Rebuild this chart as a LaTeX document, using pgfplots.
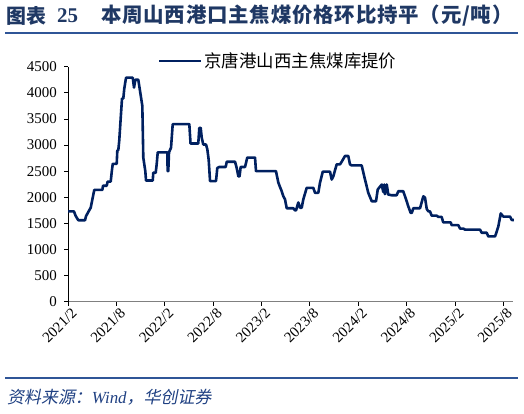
\documentclass[border=0pt]{standalone}
\usepackage{pgfplots}
\pgfplotsset{compat=1.18}
\usepackage{fontspec}
\setmainfont{Liberation Serif}
\newfontfamily\cjk{Noto Sans CJK SC}
\newfontfamily\cjktitle{Noto Sans CJK SC}[LetterSpace=4]
\newfontfamily\cjkit{Noto Sans CJK SC}[FakeSlant=0.2]
\definecolor{navy}{RGB}{0,32,96}
\definecolor{titleblue}{RGB}{31,56,100}
\definecolor{rulec}{RGB}{47,85,151}
\definecolor{srcblue}{RGB}{31,64,130}
\begin{document}
\begin{tikzpicture}[x=1bp,y=1bp]
\path[use as bounding box] (0,0) rectangle (524,413);
\draw[rulec, line width=1.8bp] (5,379.7) -- (518,379.7);
\draw[rulec, line width=1.8bp] (5,35) -- (518,35);
\node[anchor=west, inner sep=0, text=titleblue] at (6,397.5) {\fontsize{20}{22}\selectfont\cjk\bfseries 图表};
\node[anchor=west, inner sep=0, text=titleblue] at (57,397.5) {\fontsize{21}{22}\selectfont\bfseries 25};
\node[anchor=west, inner sep=0, text=titleblue] at (101,397.5) {\fontsize{20.5}{22}\selectfont\cjktitle\bfseries 本周山西港口主焦煤价格环比持平（元/吨）};
\node[anchor=west, inner sep=0, text=srcblue] at (7,15.5) {\fontsize{17}{19}\selectfont{\cjkit 资料来源：}{\itshape Wind}{\cjkit ，华创证券}};
\begin{axis}[
  at={(68bp,111.3bp)}, anchor=south west,
  scale only axis, width=445.3bp, height=235bp,
  xmin=0, xmax=55.24, ymin=0, ymax=4500,
  axis x line*=bottom, axis y line*=left,
  x axis line style={draw=gray, line width=1bp, -},
  y axis line style={draw=black, line width=0.8bp, -},
  xtick={0,6,...,54},
  xticklabels={2021/2,2021/8,2022/2,2022/8,2023/2,2023/8,2024/2,2024/8,2025/2,2025/8},
  ytick={0,500,...,4500},
  scaled y ticks=false,
  /pgf/number format/1000 sep={},
  /pgf/number format/assume math mode=true,
  tick align=outside, major tick length=4bp,
  tick style={black, line width=0.8bp},
  ticklabel style={font=\fontsize{15}{17}\selectfont},
  xticklabel style={rotate=45, anchor=east, inner sep=1bp, yshift=-8bp, xshift=2bp},
  yticklabel style={inner sep=2bp, xshift=-5bp},
  clip=false,
  legend style={draw=none, fill=none, at={(0.202,1.024)}, anchor=west,
    font=\cjk\fontsize{17.5}{19}\selectfont, inner sep=0pt, outer sep=0pt,
    nodes={inner sep=2bp}},
  legend image code/.code={\draw[#1] (0bp,0bp) -- (42bp,0bp);},
]
\addplot[navy, line width=2.6bp, line join=round] coordinates {
(0,1730)(0.74,1730)(0.93,1650)(1.12,1600)(1.28,1560)(2.11,1560)(2.23,1635)(2.52,1720)(2.82,1800)(3.01,1950)(3.26,2140)(4.26,2140)(4.34,2220)(4.80,2220)(4.92,2300)(5.30,2300)(5.42,2480)(5.55,2640)(6.04,2640)(6.12,2900)(6.24,2900)(6.36,3090)(6.54,3520)(6.70,3890)(6.86,3890)(6.98,4080)(7.20,4290)(8.03,4290)(8.19,4100)(8.35,4250)(8.72,4250)(8.93,4040)(9.22,3750)(9.34,2760)(9.59,2500)(9.68,2320)(10.51,2320)(10.58,2470)(10.88,2470)(11.00,2630)(11.13,2860)(12.32,2860)(12.36,2500)(12.44,2500)(12.53,2860)(12.78,2950)(12.99,3400)(15.05,3400)(15.20,3030)(16.16,3030)(16.29,3330)(16.46,3330)(16.59,3140)(16.78,3010)(17.12,3010)(17.28,2920)(17.45,2720)(17.62,2310)(18.36,2310)(18.52,2560)(18.77,2580)(19.56,2580)(19.69,2680)(20.72,2680)(20.93,2560)(21.13,2400)(21.28,2400)(21.42,2580)(21.96,2580)(22.24,2760)(23.20,2760)(23.32,2500)(25.80,2500)(26.09,2280)(26.51,2115)(26.71,2020)(26.92,1960)(27.13,1790)(27.95,1790)(28.16,1750)(28.29,1750)(28.57,1900)(28.78,1800)(28.99,1800)(29.19,1960)(29.61,2180)(30.43,2180)(30.64,2085)(31.05,2085)(31.26,2280)(31.60,2490)(32.50,2490)(32.71,2340)(32.91,2400)(33.33,2630)(33.74,2630)(33.99,2690)(34.36,2790)(34.77,2790)(34.98,2630)(35.19,2610)(36.43,2610)(36.84,2340)(37.25,2085)(37.68,1923)(38.21,1923)(38.42,2148)(38.92,2244)(39.11,2100)(39.24,2244)(39.32,2060)(39.54,2244)(39.73,2052)(40.15,2039)(40.77,2039)(40.97,2115)(41.59,2115)(42.01,1923)(42.21,1827)(42.51,1700)(42.64,1700)(42.84,1790)(43.67,1790)(44.08,2019)(44.29,1990)(44.50,1777)(44.69,1731)(44.90,1731)(45.11,1648)(45.73,1648)(45.94,1623)(46.35,1623)(46.55,1519)(47.47,1519)(47.60,1465)(48.42,1465)(48.63,1400)(49.04,1400)(49.25,1380)(51.11,1380)(51.32,1320)(51.94,1320)(52.14,1250)(52.97,1250)(53.09,1300)(53.38,1440)(53.68,1690)(54.00,1630)(54.83,1630)(55.04,1565)(55.3,1565)
};
\addlegendentry{京唐港山西主焦煤库提价}
\end{axis}
\end{tikzpicture}
\end{document}
